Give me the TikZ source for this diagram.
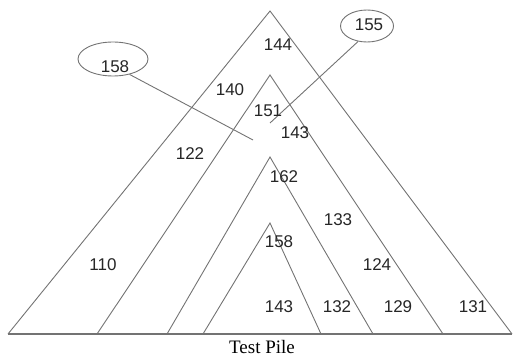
\documentclass[tikz,border=0pt]{standalone}
\usepackage{fontspec}
\setmainfont{Liberation Serif}
\newfontfamily\numfont{Liberation Sans}
\usetikzlibrary{shapes.geometric}
\tikzset{
  edge/.style={draw=black!55, line width=0.9pt},
  baseline/.style={draw=black!55, line width=2pt},
  num/.style={font=\numfont\fontsize{17}{17}\selectfont, inner sep=0pt, text=black!85},
  bubble/.style={ellipse, draw=black!55, line width=0.9pt, inner sep=0pt},
}
\begin{document}
\begin{tikzpicture}[x=1pt,y=-1pt]
\useasboundingbox (0,0) rectangle (513,358);
% triangles
\coordinate (a1) at (270,11);  \coordinate (l1) at (8,334);   \coordinate (r1) at (512,334);
\coordinate (a2) at (270,75);  \coordinate (l2) at (97,334);  \coordinate (r2) at (443,334);
\coordinate (a3) at (270,157); \coordinate (l3) at (167,334); \coordinate (r3) at (373,334);
\coordinate (a4) at (270,223); \coordinate (l4) at (203,334); \coordinate (r4) at (321,334);
\draw[edge] (l1) -- (a1) -- (r1);
\draw[edge] (l2) -- (a2) -- (r2);
\draw[edge] (l3) -- (a3) -- (r3);
\draw[edge] (l4) -- (a4) -- (r4);
\draw[baseline] (l1) -- (r1);
% bubbles
\node[bubble, minimum width=70pt, minimum height=34pt] (e1) at (113,59) {};
\node[num] (t1) at (115,67) {158};
\coordinate (c1) at (253,140);
\draw[edge] (e1.-43) -- (c1);
\node[bubble, minimum width=53pt, minimum height=32pt] (e2) at (367,26) {};
\node[num] (t2) at (369,25) {155};
\coordinate (c2) at (270,123);
\draw[edge] (e2.-120) -- (c2);
% labels
\node[num] (n144) at (278,45) {144};
\node[num] (n140) at (230,90) {140};
\node[num] (n151) at (268,111) {151};
\node[num] (n143a) at (295,133) {143};
\node[num] (n122) at (190,154) {122};
\node[num] (n162) at (284,177) {162};
\node[num] (n133) at (338,220) {133};
\node[num] (n158) at (279,242) {158};
\node[num] (n110) at (103,265) {110};
\node[num] (n124) at (377,265) {124};
\node[num] (n143b) at (279,307) {143};
\node[num] (n132) at (337,307) {132};
\node[num] (n129) at (398,307) {129};
\node[num] (n131) at (473,307) {131};
\node[font=\fontsize{19}{19}\selectfont, inner sep=0pt] (tp) at (262,347) {Test Pile};
\end{tikzpicture}
\end{document}
